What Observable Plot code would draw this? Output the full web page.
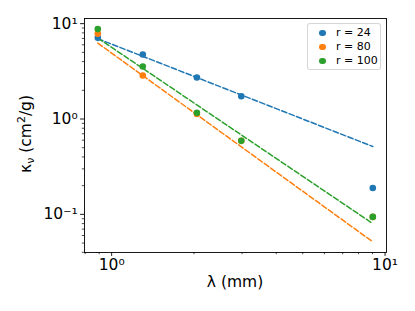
<!DOCTYPE html>
<html><head><meta charset="utf-8">
<script src="https://cdn.jsdelivr.net/npm/d3@7"></script>
<script src="https://cdn.jsdelivr.net/npm/@observablehq/plot@0.6"></script>
<style>
body{margin:0;background:#fff}
#chart{position:relative;width:415px;height:311px;font-family:"DejaVu Sans",sans-serif}
#legend{position:absolute;left:307px;top:23px;width:72px;height:45px;border:1px solid rgba(204,204,204,0.8);border-radius:3px;background:rgba(255,255,255,0.8);font-size:11px;color:#000}
#legend .row{position:absolute;left:0;height:14px;line-height:14px;white-space:nowrap}
#legend .sw{position:absolute;left:11px;top:3.7px;width:6.6px;height:6.6px;border-radius:50%}
#legend .lb{position:absolute;left:28px;top:0}
</style>
</head><body><div id="chart"><div id="legend"></div></div>
<script>
// wavelengths (mm)
const wavelengths = [0.89, 1.3, 2.05, 2.98, 9.02];
const seriesNames = ["r = 24", "r = 80", "r = 100"];
const seriesColors = ["#1f77b4", "#ff7f0e", "#2ca02c"];
// opacity kappa_nu (cm^2/g)
const kappaR24 = [7.1, 4.75, 2.72, 1.73, 0.189];
const kappaR80 = [7.85, 2.86, 1.13, 0.59, 0.094];
const kappaR100 = [8.77, 3.55, 1.16, 0.59, 0.094];
// power-law fit lines (end points)
const fitWavelengths = [0.89, 9.02];
const fitR24 = [6.95, 0.515];
const fitR80 = [6.25, 0.0515];
const fitR100 = [7.06, 0.080];
// ticks
const xMajorTicks = [1, 10];
const xMajorLabels = ["10⁰", "10¹"];
const xMinorTicks = [0.8, 0.9, 2, 3, 4, 5, 6, 7, 8, 9];
const yMajorTicks = [0.1, 1, 10];
const yMajorLabels = ["10⁻¹", "10⁰", "10¹"];
const yMinorTicks = [0.04, 0.05, 0.06, 0.07, 0.08, 0.09, 0.2, 0.3, 0.4, 0.5, 0.6, 0.7, 0.8, 0.9, 2, 3, 4, 5, 6, 7, 8, 9];
const xLabel = "λ (mm)";

const kappaBySeries = [kappaR24, kappaR80, kappaR100];
const fitBySeries = [fitR24, fitR80, fitR100];
const points = seriesNames.flatMap((s, k) => wavelengths.map((w, i) => ({series: s, lambda: w, kappa: kappaBySeries[k][i]})));
const fits = seriesNames.flatMap((s, k) => fitWavelengths.map((w, i) => ({series: s, lambda: w, kappa: fitBySeries[k][i]})));

const font = "DejaVu Sans, sans-serif";
const chart = Plot.plot({
  width: 415, height: 311,
  marginLeft: 84, marginRight: 29, marginTop: 18, marginBottom: 59,
  style: {fontFamily: font, fontSize: "15.5px", color: "#000", background: "transparent"},
  x: {type: "log", domain: [Math.pow(10, -0.0993), Math.pow(10, 1.0053)], label: null},
  y: {type: "log", domain: [Math.pow(10, -1.40), Math.pow(10, 1.054)], label: null},
  color: {domain: seriesNames, range: seriesColors},
  marks: [
    Plot.line(fits, {x: "lambda", y: "kappa", z: "series", stroke: "series", strokeWidth: 1.5, strokeDasharray: "5.5,2.4"}),
    Plot.dot(points, {x: "lambda", y: "kappa", fill: "series", r: 3.3}),
    Plot.frame({stroke: "#000", strokeWidth: 0.9}),
    Plot.axisX({ticks: xMinorTicks, tickSize: 2.2, tickFormat: () => "", stroke: "#000", strokeWidth: 0.7}),
    Plot.axisX({ticks: xMajorTicks, tickSize: 3.9, tickPadding: 3, tickFormat: d => xMajorLabels[xMajorTicks.indexOf(d)], fontSize: 15.5, stroke: "#000", strokeWidth: 0.9}),
    Plot.axisY({ticks: yMinorTicks, tickSize: 2.2, tickFormat: () => "", stroke: "#000", strokeWidth: 0.7}),
    Plot.axisY({ticks: yMajorTicks, tickSize: 3.9, tickPadding: 3, tickFormat: d => yMajorLabels[yMajorTicks.indexOf(d)], fontSize: 15.5, stroke: "#000", strokeWidth: 0.9})
  ]
});
const host = document.getElementById("chart");
host.insertBefore(chart, host.firstChild);

const svg = d3.select(chart);
// x label
svg.append("text")
  .attr("x", 235).attr("y", 287)
  .attr("text-anchor", "middle")
  .attr("font-family", font).attr("font-size", 15.5).attr("fill", "#000")
  .text(xLabel);
// y label with sub/superscript
const yl = svg.append("text")
  .attr("transform", "translate(31,134) rotate(-90)")
  .attr("text-anchor", "middle")
  .attr("font-family", font).attr("font-size", 15.5).attr("fill", "#000");
yl.append("tspan").text("κ");
yl.append("tspan").attr("font-size", 11).attr("dy", 3).text("ν");
yl.append("tspan").attr("dy", -3).text(" (cm");
yl.append("tspan").attr("font-size", 11).attr("dy", -6).text("2");
yl.append("tspan").attr("dy", 6).text("/g)");

// legend
const legend = document.getElementById("legend");
seriesNames.forEach((name, i) => {
  const row = document.createElement("div");
  row.className = "row";
  row.style.top = (2 + i * 14) + "px";
  row.style.width = "72px";
  row.innerHTML = `<span class="sw" style="background:${seriesColors[i]}"></span><span class="lb">${name}</span>`;
  legend.appendChild(row);
});
</script>
</body></html>
